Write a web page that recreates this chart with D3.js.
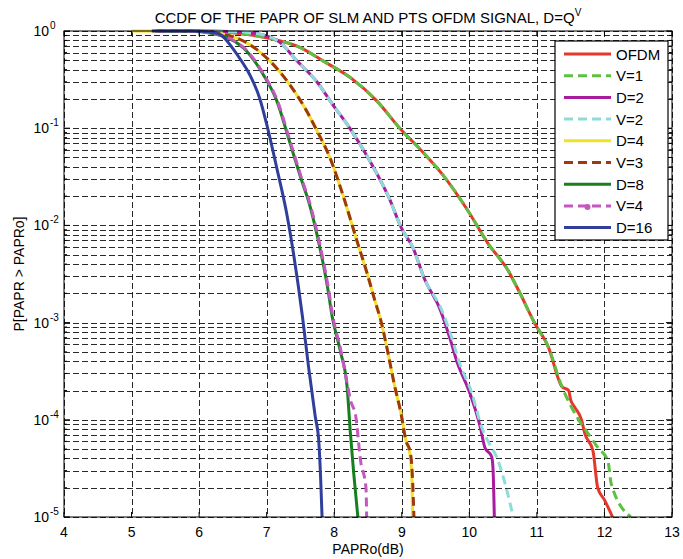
<!DOCTYPE html>
<html>
<head>
<meta charset="utf-8">
<script src="https://cdn.jsdelivr.net/npm/d3@7"></script>
<style>
  body { margin: 0; background: #fff; }
  svg text { font-family: "Liberation Sans", Arial, Helvetica, sans-serif; fill: #000; }
</style>
</head>
<body>
<script>
// curves: [PAPRo in dB, P(PAPR > PAPRo)]
var ofdm = [[5.8,1],[6.2,0.995],[6.75,0.912],[7.0,0.851],[7.5,0.676],[7.84,0.49],[8.24,0.331],
  [8.63,0.191],[8.97,0.1],[9.33,0.055],[9.63,0.0316],[9.97,0.0145],[10.28,0.00646],
  [10.57,0.00347],[10.73,0.00214],[10.97,0.00098],[11.17,0.00056],[11.37,0.00022],
  [11.47,0.0002],[11.50,0.00016],[11.56,0.000135],[11.66,0.0001],[11.71,7.2e-5],[11.83,4.8e-5],
  [11.90,2.0e-5],[12.0,1.5e-5],[12.12,1e-5]];
var v1 = [[5.8,1],[6.2,0.995],[6.75,0.912],[7.0,0.851],[7.5,0.676],[7.84,0.49],[8.24,0.331],
  [8.63,0.191],[8.97,0.1],[9.33,0.055],[9.63,0.0316],[9.97,0.0145],[10.28,0.00646],
  [10.57,0.00347],[10.73,0.00214],[10.97,0.00098],[11.17,0.00056],[11.37,0.00022],
  [11.60,0.000105],[11.76,7.2e-5],[11.90,5.2e-5],[12.05,3.8e-5],[12.10,2.2e-5],[12.39,1e-5]];
var d2 = [[5.6,1],[6.3,0.995],[6.7,0.966],[7.0,0.89],[7.2,0.76],[7.44,0.5],[7.74,0.302],
  [7.98,0.174],[8.23,0.1],[8.53,0.0457],[8.82,0.0186],[8.99,0.00955],[9.17,0.0058],
  [9.33,0.00288],[9.57,0.00135],[9.73,0.00063],[9.81,0.00041],[10.01,0.000186],
  [10.16,8.5e-5],[10.23,5.2e-5],[10.33,4.2e-5],[10.35,3.2e-5],[10.37,1e-5]];
var v2 = [[5.6,1],[6.3,0.995],[6.7,0.966],[7.0,0.89],[7.2,0.76],[7.44,0.5],[7.74,0.302],
  [7.98,0.174],[8.23,0.1],[8.53,0.0457],[8.82,0.0186],[8.99,0.00955],[9.17,0.0058],
  [9.33,0.00288],[9.59,0.00135],[9.76,0.00063],[9.84,0.00041],[10.04,0.000186],
  [10.18,8.5e-5],[10.30,5.6e-5],[10.40,4.2e-5],[10.49,2.75e-5],[10.65,1e-5]];
var d4 = [[5.0,1],[5.9,0.995],[6.26,0.955],[6.75,0.724],[7.05,0.49],[7.34,0.282],[7.59,0.151],
  [7.74,0.0955],[7.94,0.049],[8.13,0.0204],[8.34,0.0068],[8.49,0.00316],[8.6,0.0017],[8.69,0.00105],
  [8.79,0.00051],[8.89,0.00023],[8.99,0.000115],[9.06,6.2e-5],[9.12,4.5e-5],[9.15,2.4e-5],[9.16,1e-5]];
var v3 = [[5.35,1],[5.9,0.995],[6.26,0.955],[6.75,0.724],[7.05,0.49],[7.34,0.282],[7.59,0.151],
  [7.74,0.0955],[7.94,0.049],[8.13,0.0204],[8.34,0.0068],[8.49,0.00316],[8.6,0.0017],[8.69,0.00105],
  [8.79,0.00051],[8.89,0.00023],[8.99,0.000115],[9.06,6.2e-5],[9.13,4.5e-5],[9.16,2.4e-5],[9.18,1e-5]];
var d8 = [[5.4,1],[5.9,0.995],[6.16,0.955],[6.65,0.676],[6.95,0.355],[7.15,0.191],[7.34,0.0724],
  [7.54,0.026],[7.62,0.0178],[7.75,0.00776],[7.9,0.00234],[7.97,0.00115],[8.09,0.00051],
  [8.19,0.00022],[8.24,7.2e-5],[8.29,2.75e-5],[8.35,1e-5]];
var v4 = [[5.4,1],[5.9,0.995],[6.17,0.955],[6.66,0.676],[6.96,0.355],[7.16,0.191],[7.35,0.0724],
  [7.55,0.026],[7.63,0.0178],[7.76,0.00776],[7.91,0.00234],[7.98,0.00115],[8.10,0.00051],
  [8.20,0.00022],[8.24,0.00016],[8.32,0.000107],[8.39,3.8e-5],[8.47,2.0e-5],[8.48,1e-5]];
var d16 = [[5.3,1],[5.9,0.998],[6.1,0.99],[6.3,0.93],[6.5,0.66],[6.62,0.5],[6.75,0.355],
  [6.9,0.2],[7.0,0.11],[7.15,0.0389],[7.3,0.0129],[7.4,0.005],[7.53,0.00115],[7.62,0.00035],
  [7.72,0.000107],[7.77,6.2e-5],[7.8,2.4e-5],[7.82,1e-5]];

var seriesNames = ["OFDM", "V=1", "D=2", "V=2", "D=4", "V=3", "D=8", "V=4", "D=16"];
var seriesData = [ofdm, v1, d2, v2, d4, v3, d8, v4, d16];
var seriesColors = ["#e6372b", "#5dc040", "#a91c9f", "#8fdbd8", "#f0e12c", "#a0380e", "#16801f", "#c457c0", "#2f3f9b"];
var seriesDash = [null, "9,5", null, "9,5", null, "9,5", null, "9,5", null];

var xTicks = [4, 5, 6, 7, 8, 9, 10, 11, 12, 13];
var yExponents = [0, -1, -2, -3, -4, -5];

var width = 683, height = 559;
var margin = {top: 31, right: 11, bottom: 42, left: 64};

var svg = d3.select("body").append("svg")
    .attr("width", width)
    .attr("height", height);

var x = d3.scaleLinear().domain([4, 13]).range([margin.left, width - margin.right]);
var y = d3.scaleLog().domain([1e-5, 1]).range([height - margin.bottom, margin.top]);

// grid: every decade and every minor step on y, integers on x
var yGrid = [], yMajor = [];
yExponents.forEach(function(e) {
    yGrid.push(Math.pow(10, e));
    yMajor.push(Math.pow(10, e));
    if (e > -5) {
        for (var m = 2; m <= 9; m++) yGrid.push(m * Math.pow(10, e - 1));
    }
});

var grid = svg.append("g").attr("class", "grid")
    .attr("stroke", "#111")
    .attr("stroke-width", 0.9)
    .attr("stroke-dasharray", "6,3");

grid.selectAll(".hgrid").data(yGrid).enter()
    .append("line")
    .attr("x1", x(4)).attr("x2", x(13))
    .attr("y1", function(d) { return Math.round(y(d)) + 0.5; })
    .attr("y2", function(d) { return Math.round(y(d)) + 0.5; });

grid.selectAll(".vgrid").data(xTicks).enter()
    .append("line")
    .attr("y1", y(1)).attr("y2", y(1e-5))
    .attr("x1", function(d) { return Math.round(x(d)) + 0.5; })
    .attr("x2", function(d) { return Math.round(x(d)) + 0.5; });

// curves
var line = d3.line()
    .curve(d3.curveMonotoneX)
    .x(function(d) { return x(d[0]); })
    .y(function(d) { return y(d[1]); });

svg.append("g").selectAll("path").data(seriesData).enter()
    .append("path")
    .attr("d", line)
    .attr("fill", "none")
    .attr("stroke", function(d, i) { return seriesColors[i]; })
    .attr("stroke-width", 3)
    .attr("stroke-linejoin", "round")
    .attr("stroke-dasharray", function(d, i) { return seriesDash[i]; });

// axes box with inward ticks
var axes = svg.append("g").attr("stroke", "#000").attr("fill", "none");
axes.append("rect")
    .attr("x", x(4)).attr("y", y(1))
    .attr("width", x(13) - x(4)).attr("height", y(1e-5) - y(1))
    .attr("stroke-width", 1);

xTicks.forEach(function(t) {
    axes.append("line").attr("x1", x(t)).attr("x2", x(t)).attr("y1", y(1e-5)).attr("y2", y(1e-5) - 5);
    axes.append("line").attr("x1", x(t)).attr("x2", x(t)).attr("y1", y(1)).attr("y2", y(1) + 5);
});
yGrid.forEach(function(t) {
    var len = yMajor.indexOf(t) >= 0 ? 6 : 3;
    axes.append("line").attr("x1", x(4)).attr("x2", x(4) + len).attr("y1", y(t)).attr("y2", y(t));
    axes.append("line").attr("x1", x(13)).attr("x2", x(13) - len).attr("y1", y(t)).attr("y2", y(t));
});

// tick labels
svg.append("g").selectAll("text").data(xTicks).enter()
    .append("text")
    .attr("x", function(d) { return x(d); })
    .attr("y", y(1e-5) + 20)
    .attr("text-anchor", "middle")
    .style("font-size", "14px")
    .text(function(d) { return d; });

var yLab = svg.append("g").selectAll("text").data(yExponents).enter()
    .append("text")
    .attr("x", x(4) - 15)
    .attr("y", function(d) { return y(Math.pow(10, d)) + 5; })
    .attr("text-anchor", "end")
    .style("font-size", "14px");
yLab.append("tspan").text("10");
yLab.append("tspan")
    .attr("x", x(4) - 14)
    .attr("dy", -7)
    .attr("text-anchor", "start")
    .style("font-size", "10px")
    .text(function(d) { return d; });

// title and axis labels
var title = svg.append("text")
    .attr("x", (x(4) + x(13)) / 2)
    .attr("y", 23)
    .attr("text-anchor", "middle")
    .style("font-size", "15px");
title.append("tspan").text("CCDF OF THE PAPR OF SLM AND PTS OFDM SIGNAL, D=Q");
title.append("tspan").attr("dy", -7).style("font-size", "10px").text("V");

svg.append("text")
    .attr("x", (x(4) + x(13)) / 2)
    .attr("y", height - 5)
    .attr("text-anchor", "middle")
    .style("font-size", "14px")
    .text("PAPRo(dB)");

svg.append("text")
    .attr("transform", "translate(24," + ((y(1) + y(1e-5)) / 2) + ") rotate(-90)")
    .attr("text-anchor", "middle")
    .style("font-size", "14px")
    .text("P[PAPR > PAPRo]");

// legend
var legend = svg.append("g").attr("transform", "translate(555,41)");
legend.append("rect")
    .attr("width", 113).attr("height", 199)
    .attr("fill", "#fff").attr("stroke", "#000").attr("stroke-width", 1.2);

var entry = legend.selectAll(".entry").data(seriesNames).enter()
    .append("g")
    .attr("transform", function(d, i) { return "translate(0," + (13 + i * 21.7) + ")"; });
entry.append("line")
    .attr("x1", 9).attr("x2", 56)
    .attr("stroke", function(d, i) { return seriesColors[i]; })
    .attr("stroke-width", 3)
    .attr("stroke-dasharray", function(d, i) { return seriesDash[i]; });
entry.filter(function(d) { return d === "V=4"; })
    .append("circle")
    .attr("cx", 32.5).attr("cy", 1).attr("r", 3)
    .attr("fill", seriesColors[7]);
entry.append("text")
    .attr("x", 61).attr("y", 5.5)
    .style("font-size", "15px")
    .text(function(d) { return d; });
</script>
</body>
</html>
